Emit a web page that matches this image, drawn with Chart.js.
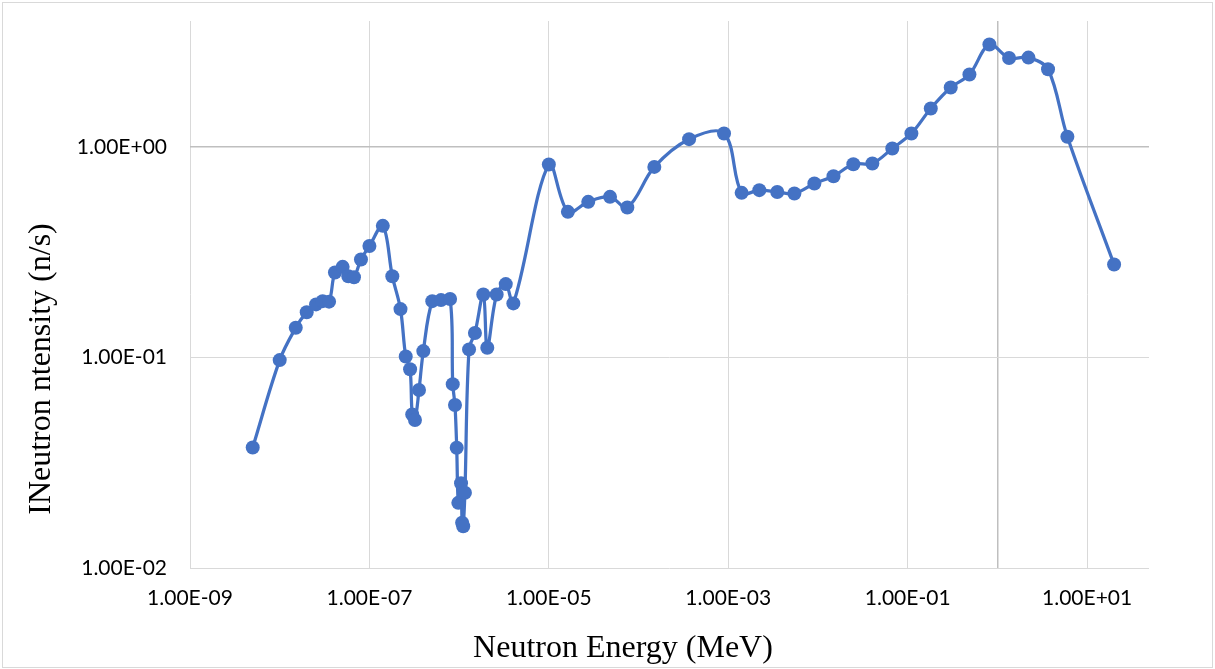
<!DOCTYPE html>
<html>
<head>
<meta charset="utf-8">
<script src="https://cdn.jsdelivr.net/npm/chart.js@4.4.1/dist/chart.umd.min.js"></script>
<style>
  html, body { margin: 0; padding: 0; background: #ffffff; }
  #wrap { position: relative; width: 1215px; height: 669px; }
  canvas { display: block; }
</style>
</head>
<body>
<div id="wrap"><canvas id="c" width="1215" height="669"></canvas></div>
<script>
// ---- data ----
const energyMeV = [5.0e-9, 1.0e-8, 1.51e-8, 2.0e-8, 2.54e-8, 3.01e-8, 3.55e-8, 4.13e-8, 5.03e-8, 5.82e-8,
  6.73e-8, 8.05e-8, 1.0e-7, 1.41e-7, 1.80e-7, 2.22e-7, 2.54e-7, 2.84e-7, 3.0e-7, 3.22e-7,
  3.57e-7, 3.99e-7, 5.02e-7, 6.28e-7, 7.93e-7, 8.49e-7, 8.99e-7, 9.4e-7, 9.8e-7, 1.05e-6,
  1.08e-6, 1.11e-6, 1.16e-6, 1.29e-6, 1.50e-6, 1.86e-6, 2.06e-6, 2.62e-6, 3.31e-6, 4.02e-6,
  1.0e-5, 1.63e-5, 2.75e-5, 4.81e-5, 7.5e-5, 1.5e-4, 3.66e-4, 8.97e-4, 1.41e-3, 2.22e-3,
  3.52e-3, 5.46e-3, 9.12e-3, 1.49e-2, 2.48e-2, 4.04e-2, 6.74e-2, 0.110, 0.181, 0.302,
  0.488, 0.815, 1.35, 2.22, 3.67, 6.03, 20.0];
const intensity = [0.0374, 0.0973, 0.1386, 0.1644, 0.179, 0.1855, 0.1845, 0.254, 0.270, 0.2438,
  0.241, 0.2927, 0.339, 0.423, 0.2438, 0.170, 0.1013, 0.088, 0.0537, 0.0505,
  0.0701, 0.1074, 0.1855, 0.1876, 0.190, 0.0748, 0.0595, 0.0373, 0.0204, 0.0253,
  0.0164, 0.0158, 0.0228, 0.1094, 0.131, 0.1996, 0.1113, 0.1996, 0.2235, 0.181,
  0.828, 0.493, 0.550, 0.581, 0.517, 0.806, 1.092, 1.162, 0.607, 0.625,
  0.613, 0.603, 0.672, 0.728, 0.830, 0.837, 0.986, 1.162, 1.527, 1.921,
  2.215, 3.075, 2.656, 2.667, 2.348, 1.122, 0.277];
const xTickValues = [1e-9, 1e-7, 1e-5, 1e-3, 1e-1, 1e0, 1e1];
const xTickLabels = ['1.00E-09', '1.00E-07', '1.00E-05', '1.00E-03', '1.00E-01', '', '1.00E+01'];
const yTickValues = [1e-2, 1e-1, 1e0];
const yTickLabels = ['1.00E-02', '1.00E-01', '1.00E+00'];
const xTitle = 'Neutron Energy (MeV)';
const yTitle = 'INeutron ntensity (n/s)';

const points = energyMeV.map((e, i) => ({ x: e, y: intensity[i] }));

const titlesPlugin = {
  id: 'titles',
  afterDraw(chart) {
    const ctx = chart.ctx;
    ctx.save();
    ctx.fillStyle = '#000000';
    ctx.font = '32px "Liberation Serif", "Times New Roman", serif';
    ctx.textAlign = 'center';
    ctx.textBaseline = 'alphabetic';
    ctx.fillText(xTitle, 623, 657);
    ctx.translate(49.5, 369);
    ctx.rotate(-Math.PI / 2);
    ctx.fillText(yTitle, 0, 0);
    ctx.restore();
  }
};
const framePlugin = {
  id: 'frame',
  beforeDraw(chart) {
    const ctx = chart.ctx;
    ctx.save();
    ctx.fillStyle = '#ffffff';
    ctx.fillRect(0, 0, chart.width, chart.height);
    ctx.strokeStyle = '#d9d9d9';
    ctx.lineWidth = 1;
    ctx.strokeRect(2.5, 2.5, 1210, 665);
    ctx.restore();
  }
};

const tickFont = { family: 'Lato, "Open Sans", sans-serif', size: 21 };

new Chart(document.getElementById('c'), {
  type: 'scatter',
  data: {
    datasets: [{
      data: points,
      showLine: true,
      borderColor: '#4472C4',
      backgroundColor: '#4472C4',
      borderWidth: 3.25,
      pointRadius: 7,
      pointBorderWidth: 0,
      pointHoverRadius: 7,
      tension: 0.35,
      clip: false
    }]
  },
  options: {
    responsive: false,
    animation: false,
    events: [],
    layout: { padding: { left: 0, right: 66, top: 21, bottom: 0 } },
    plugins: { legend: { display: false }, tooltip: { enabled: false } },
    scales: {
      x: {
        type: 'logarithmic',
        min: 1e-9,
        max: 49,
        border: { display: false },
        grid: {
          drawTicks: false,
          color: (c) => (c.tick && c.tick.value === 1) ? '#bfbfbf' : '#d9d9d9',
          lineWidth: (c) => (c.tick && c.tick.value === 1) ? 1.5 : 1
        },
        afterBuildTicks: (s) => { s.ticks = xTickValues.map(v => ({ value: v })); },
        afterFit: (s) => { s.height = 101; s.paddingLeft = 0; s.paddingRight = 0; },
        ticks: {
          autoSkip: false,
          maxRotation: 0,
          padding: 18,
          color: '#000000',
          font: tickFont,
          callback: (v) => { const i = xTickValues.indexOf(v); return i >= 0 ? xTickLabels[i] : ''; }
        }
      },
      y: {
        type: 'logarithmic',
        min: 1e-2,
        max: 3.98,
        border: { display: false },
        grid: {
          drawTicks: false,
          color: (c) => (c.tick && c.tick.value === 1) ? '#bfbfbf' : '#d9d9d9',
          lineWidth: (c) => (c.tick && c.tick.value === 1) ? 1.5 : 1
        },
        afterBuildTicks: (s) => { s.ticks = yTickValues.map(v => ({ value: v })); },
        afterFit: (s) => { s.width = 190; s.paddingTop = 0; s.paddingBottom = 0; },
        ticks: {
          autoSkip: false,
          padding: 23,
          color: '#000000',
          font: tickFont,
          callback: (v) => { const i = yTickValues.indexOf(v); return i >= 0 ? yTickLabels[i] : ''; }
        }
      }
    }
  },
  plugins: [framePlugin, titlesPlugin]
});
</script>
</body>
</html>
